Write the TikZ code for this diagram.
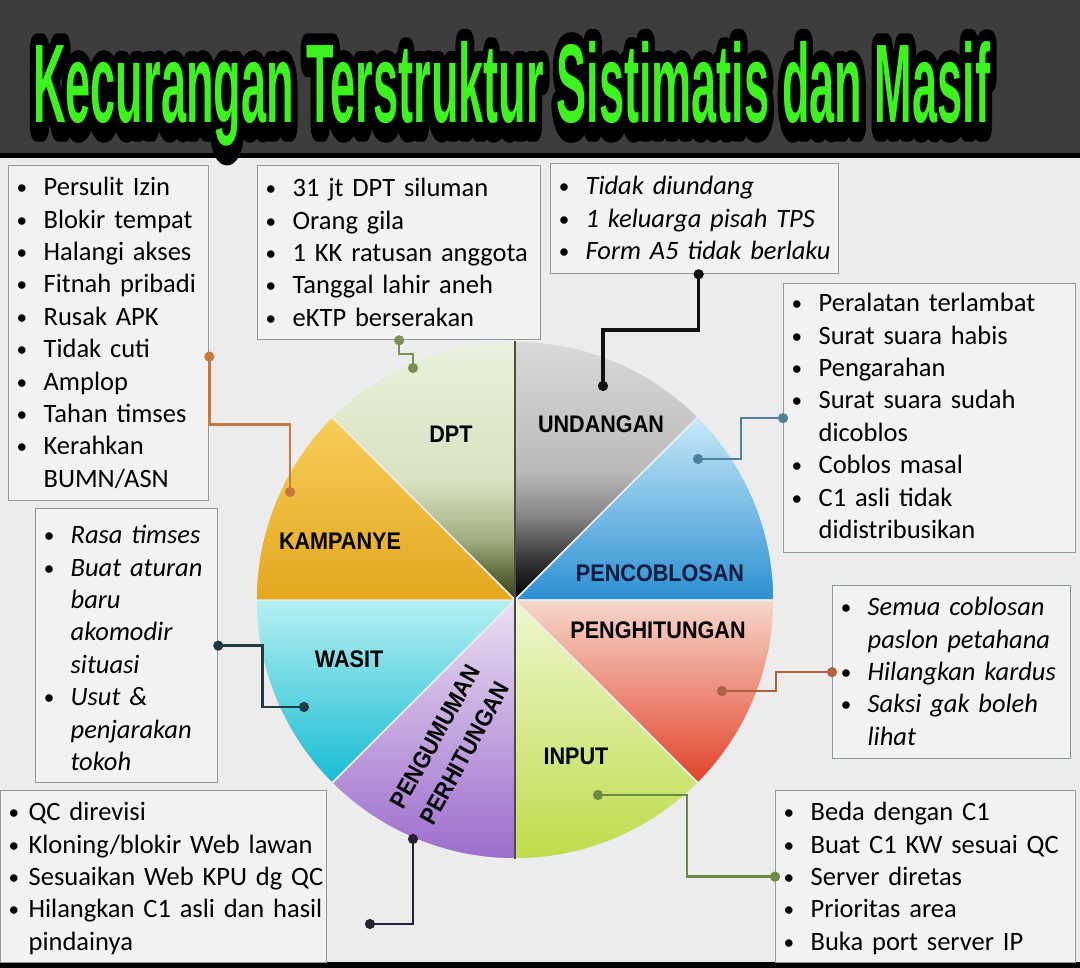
\documentclass[tikz,border=0pt]{standalone}
\usepackage{graphicx}
\usepackage{fontspec}
\setmainfont{Carlito}
\newfontfamily\headfont{Liberation Sans}
\usetikzlibrary{arrows.meta, positioning}

% colours of the frame
\definecolor{bargray}{HTML}{3D3D3D}
\definecolor{bgcol}{HTML}{ECECEC}
\definecolor{boxfill}{HTML}{F2F2F2}
\definecolor{boxline}{HTML}{8E9AA2}
\definecolor{titlegreen}{HTML}{3DF21F}
\definecolor{navy}{HTML}{0B1A3E}
% colours of the slices (top / middle / bottom)
\definecolor{penA}{HTML}{C6E9F7}\definecolor{penB}{HTML}{8CCFEE}\definecolor{penC}{HTML}{2C8FD2}
\definecolor{hitA}{HTML}{F6D6CB}\definecolor{hitB}{HTML}{F0A488}\definecolor{hitC}{HTML}{E2432A}
\definecolor{inpA}{HTML}{EEF6CF}\definecolor{inpB}{HTML}{E0EE98}\definecolor{inpC}{HTML}{BFDC4A}
\definecolor{umuA}{HTML}{EADFF2}\definecolor{umuB}{HTML}{D4BDE8}\definecolor{umuC}{HTML}{9C6CCC}
\definecolor{wasA}{HTML}{B4EFF1}\definecolor{wasB}{HTML}{7FE2EA}\definecolor{wasC}{HTML}{16BCD2}
\definecolor{kamA}{HTML}{F7CD58}\definecolor{kamB}{HTML}{F2BB3C}\definecolor{kamC}{HTML}{E4A61E}
\definecolor{dptA}{HTML}{E9F0DC}\definecolor{dptB}{HTML}{D8E2C2}\definecolor{dptM}{HTML}{A3B083}
\definecolor{dptC}{HTML}{5E6B3C}\definecolor{dptD}{HTML}{36421E}
% the two dark slices keep their dark part near the centre
\pgfdeclareverticalshading{dptshade}{100bp}{color(0bp)=(dptD); color(25bp)=(dptD); color(30bp)=(dptC);
  color(37bp)=(dptM); color(48bp)=(dptB); color(75bp)=(dptA); color(100bp)=(dptA)}
\pgfdeclareverticalshading{undshade}{100bp}{color(0bp)=(black); color(25bp)=(black); color(33bp)=(black!78);
  color(41bp)=(black!48); color(50bp)=(black!27); color(75bp)=(black!15); color(100bp)=(black!15)}
% colours of the connectors
\definecolor{kamline}{HTML}{C7793C}
\definecolor{dptline}{HTML}{7D8F54}
\definecolor{undline}{HTML}{111111}
\definecolor{penline}{HTML}{4F7F9C}
\definecolor{hitline}{HTML}{B0623F}
\definecolor{inpline}{HTML}{6D8A45}
\definecolor{wasline}{HTML}{1F3A40}
\definecolor{umuline}{HTML}{222233}

\newcommand{\dotb}{\raisebox{1pt}{\scalebox{.8}{\textbullet}}}
\newcommand{\itm}[1]{\makebox[27pt][l]{\dotb}\mbox{#1}}
\newcommand{\cnt}[1]{\hspace*{27pt}\mbox{#1}}
\newcommand{\itmn}[1]{\makebox[20pt][l]{\dotb}\mbox{#1}}
\newcommand{\cntn}[1]{\hspace*{20pt}\mbox{#1}}
\newcommand{\titletext}{\resizebox{957pt}{81pt}{\headfont\bfseries Kecurangan Terstruktur Sistimatis dan Masif}}
% black outline: the same title, stroked (the stretch makes it taller than wide)
\newcommand{\titleoutline}{\resizebox{957pt}{81pt}{\headfont\bfseries
  \special{pdf:literal direct 2 Tr 2.8 w 1 j 0 G}Kecurangan Terstruktur Sistimatis dan Masif\special{pdf:literal direct 0 Tr}}}

\begin{document}
\begin{tikzpicture}[x=1pt, y=1pt,
  listbox/.style={draw=boxline, fill=boxfill, line width=1.3pt, anchor=north west,
    inner xsep=8pt, inner ysep=0pt, align=left, font=\fontsize{26.5}{32.4}\selectfont},
  listit/.style={listbox, font=\fontsize{26.5}{32.4}\selectfont\itshape},
  slicelabel/.style={font=\headfont\bfseries\fontsize{24}{34}\selectfont, xscale=.9},
  link/.style={line width=2.6pt, {Circle[length=10pt]}-{Circle[length=10pt]},
    shorten <=-5pt, shorten >=-5pt}]

  % background, title bar
  \fill[bgcol] (0,0) rectangle (1080,-968);
  \fill[bargray] (0,0) rectangle (1080,-153);
  \fill[black] (0,-153) rectangle (1080,-158);
  \fill[black] (0,-962) rectangle (1080,-968);

  % title with its black outline
  \node[anchor=base west, inner sep=0pt, text=black] (titleShadow) at (33,-126) {\titleoutline};
  \node[anchor=base west, inner sep=0pt, text=titlegreen] (title) at (33,-123) {\titletext};

  % pie slices
  \coordinate (ctr) at (515,-600);
  \shadedraw[shading=dptshade, draw=white!85!gray, line width=1.5pt]
    (ctr) -- ++(90:259) arc[start angle=90, delta angle=45, radius=259] -- cycle;
  \shadedraw[shading=undshade, draw=white!85!gray, line width=1.5pt]
    (ctr) -- ++(45:259) arc[start angle=45, delta angle=45, radius=259] -- cycle;
  \foreach \s/\ca/\cb/\cc in {0/penA/penB/penC, -45/hitA/hitB/hitC, -90/inpA/inpB/inpC,
      -135/umuA/umuB/umuC, 180/wasA/wasB/wasC, 135/kamA/kamB/kamC} {
    \shadedraw[top color=\ca, middle color=\cb, bottom color=\cc, draw=white!85!gray, line width=1.5pt]
      (ctr) -- ++(\s:259) arc[start angle=\s, delta angle=45, radius=259] -- cycle;
  }
  \draw[gray!60!black, line width=1.2pt] (ctr) -- ++(90:259);
  \draw[gray!60!black, line width=1.2pt] (ctr) -- ++(-90:259);

  % slice labels
  \node[slicelabel] (dptLabel) at (451,-434) {DPT};
  \node[slicelabel] (undLabel) at (601,-424) {UNDANGAN};
  \node[slicelabel] (kamLabel) at (340,-541) {KAMPANYE};
  \node[slicelabel, text=navy] (penLabel) at (660,-573) {PENCOBLOSAN};
  \node[slicelabel] (hitLabel) at (658,-630) {PENGHITUNGAN};
  \node[slicelabel] (wasLabel) at (349,-659) {WASIT};
  \node[slicelabel] (inpLabel) at (576,-756) {INPUT};
  \node[rotate=61, slicelabel, align=center] (umuLabel) at (450,-745) {PENGUMUMAN\\PERHITUNGAN};

  % lists
  \node[listbox, text width=184pt, text height=30pt, text depth=305pt] (kampanyeList) at (8,-165)
    {\itm{Persulit Izin}\\ \itm{Blokir tempat}\\ \itm{Halangi akses}\\ \itm{Fitnah pribadi}\\
     \itm{Rusak APK}\\ \itm{Tidak cuti}\\ \itm{Amplop}\\ \itm{Tahan timses}\\ \itm{Kerahkan}\\
     \cnt{BUMN/ASN}};
  \node[listbox, text width=267pt, text height=31pt, text depth=143pt] (dptList) at (257,-165)
    {\itm{31 jt DPT siluman}\\ \itm{Orang gila}\\ \itm{1 KK ratusan anggota}\\
     \itm{Tanggal lahir aneh}\\ \itm{eKTP berserakan}};
  \node[listit, text width=272pt, text height=31pt, text depth=79pt] (undanganList) at (550,-163)
    {\itm{Tidak diundang}\\ \itm{1 keluarga pisah TPS}\\ \itm{Form A5 tidak berlaku}};
  \node[listbox, text width=276pt, text height=28pt, text depth=241pt] (pencoblosanList) at (783,-283)
    {\itm{Peralatan terlambat}\\ \itm{Surat suara habis}\\ \itm{Pengarahan}\\
     \itm{Surat suara sudah}\\ \cnt{dicoblos}\\ \itm{Coblos masal}\\ \itm{C1 asli tidak}\\
     \cnt{didistribusikan}};
  \node[listit, text width=222pt, text height=30pt, text depth=143pt] (penghitunganList) at (832,-585)
    {\itm{Semua coblosan}\\ \cnt{paslon petahana}\\ \itm{Hilangkan kardus}\\
     \itm{Saksi gak boleh}\\ \cnt{lihat}};
  \node[listbox, text width=284pt, text height=30pt, text depth=142pt] (inputList) at (775,-790)
    {\itm{Beda dengan C1}\\ \itm{Buat C1 KW sesuai QC}\\ \itm{Server diretas}\\
     \itm{Prioritas area}\\ \itm{Buka port server IP}};
  \node[listit, text width=166pt, text height=35pt, text depth=239pt] (wasitList) at (35,-508)
    {\itm{Rasa timses}\\ \itm{Buat aturan}\\ \cnt{baru}\\ \cnt{akomodir}\\ \cnt{situasi}\\
     \itm{Usut \&}\\ \cnt{penjarakan}\\ \cnt{tokoh}};
  \node[listbox, text width=310pt, text height=30pt, text depth=142pt] (pengumumanList) at (0,-790)
    {\itmn{QC direvisi}\\ \itmn{Kloning/blokir Web lawan}\\ \itmn{Sesuaikan Web KPU dg QC}\\
     \itmn{Hilangkan C1 asli dan hasil}\\ \cntn{pindainya}};

  % dots inside the slices
  \coordinate (kamDot) at (290,-492);
  \coordinate (dptDot) at (413,-368);
  \coordinate (undDot) at (603,-386);
  \coordinate (penDot) at (698,-459);
  \coordinate (hitDot) at (722,-691);
  \coordinate (inpDot) at (598,-795);
  \coordinate (wasDot) at (304,-707);
  \coordinate (umuDot) at (413,-839);
  \coordinate (umuEnd) at (370,-924);

  % connectors
  \draw[link, kamline] ([yshift=-23.5pt]kampanyeList.east) -- ++(0,-68) -| (kamDot);
  \draw[link, dptline, line width=2pt] (dptList.south) -- ++(0,-14) -| (dptDot);
  \draw[link, undline, line width=3.6pt] ([xshift=4pt]undanganList.south) -- ++(0,-56) -| (undDot);
  \draw[link, penline] (pencoblosanList.west) -- ++(-42,0) |- (penDot);
  \draw[link, hitline] (penghitunganList.west) -- ++(-56,0) |- (hitDot);
  \draw[link, inpline] (inpDot) -- ++(89,0) |- (inputList.west);
  \draw[link, wasline] (wasitList.east) -- ++(44,0) |- (wasDot);
  \draw[link, umuline] (umuDot) |- (umuEnd);
\end{tikzpicture}
\end{document}
